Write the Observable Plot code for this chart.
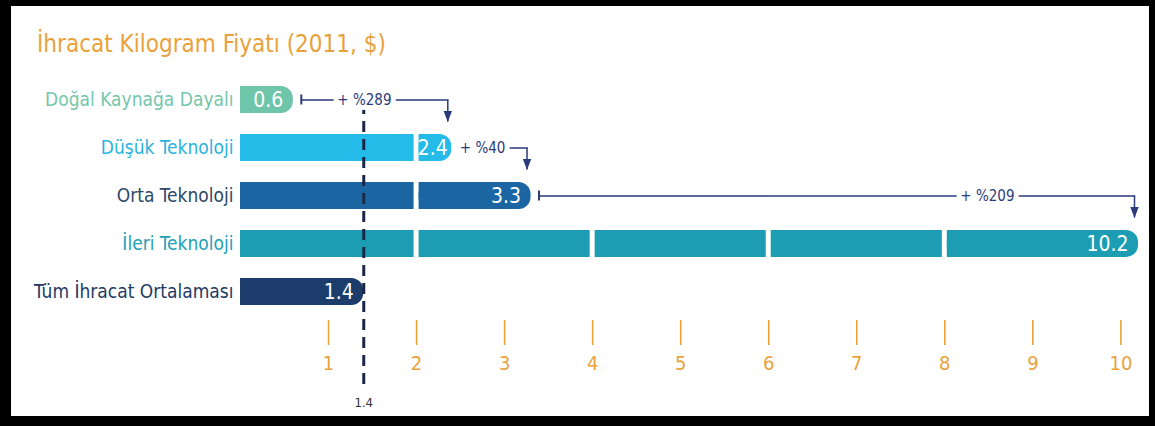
<!DOCTYPE html>
<html><head><meta charset="utf-8">
<script src="https://cdn.jsdelivr.net/npm/d3@7"></script>
<script src="https://cdn.jsdelivr.net/npm/@observablehq/plot@0.6"></script>
<style>
body{margin:0;background:#fff;}
#wrap{position:relative;width:1155px;height:426px;overflow:hidden;background:#fff;}
#title{height:72px;box-sizing:border-box;padding:30px 0 0 37px;font-family:"DejaVu Sans Condensed","Liberation Sans Narrow",sans-serif;font-stretch:condensed;font-size:24px;line-height:28px;color:#E9A23B;white-space:nowrap;}
#frame{position:absolute;left:0;top:0;width:1155px;height:426px;box-sizing:border-box;border-style:solid;border-color:#000;border-width:6px 6px 10px 11px;pointer-events:none;}
#chart svg{display:block;}
</style></head><body>
<div id="wrap"><div id="title">İhracat Kilogram Fiyatı (2011, $)</div><div id="chart"></div><div id="frame"></div></div>
<script>
// ---- data ----
const categories = ["Doğal Kaynağa Dayalı", "Düşük Teknoloji", "Orta Teknoloji", "İleri Teknoloji", "Tüm İhracat Ortalaması"];
const values = [0.6, 2.4, 3.3, 10.2, 1.4];
const valueLabels = ["0.6", "2.4", "3.3", "10.2", "1.4"];
const averageValue = 1.4;
const averageLabel = "1.4";
const tickValues = [1, 2, 3, 4, 5, 6, 7, 8, 9, 10];
const separators = [2, 4, 6, 8];   // white breaks inside the bars
const annFromCat = ["Doğal Kaynağa Dayalı", "Düşük Teknoloji", "Orta Teknoloji"];
const annToCat = ["Düşük Teknoloji", "Orta Teknoloji", "İleri Teknoloji"];
const annLabels = ["+ %289", "+ %40", "+ %209"];

// ---- styles ----
const barColors = ["#6FC5A9", "#25BBE8", "#1B66A2", "#1C9DB4", "#1C3C6C"];
const labelColors = ["#74C6AB", "#2BB3DE", "#2E4866", "#1FA0B7", "#1E3A63"];
const FONT = '"DejaVu Sans Condensed","Liberation Sans Narrow",sans-serif';
const ORANGE = "#E9A23B";
const NAVY = "#2B3A7A";

const rows = categories.map((c, i) => ({cat: c, value: values[i], label: valueLabels[i], i}));
const valueOf = c => values[categories.indexOf(c)];
const ann = annLabels.map((l, i) => ({label: l, fromCat: annFromCat[i], toCat: annToCat[i], from: valueOf(annFromCat[i]), to: valueOf(annToCat[i])}));

const segs = [];
rows.forEach(r => {
  const cuts = [0, ...separators.filter(s => s < r.value), r.value];
  for (let k = 0; k < cuts.length - 1; k++) {
    segs.push({cat: r.cat, x1: cuts[k], x2: cuts[k + 1], first: k === 0, last: k === cuts.length - 2});
  }
  r.lastLen = cuts[cuts.length - 1] - cuts[cuts.length - 2];
  r.split = cuts.length > 2;
});
// rows whose last segment is short get their value label closer to the bar end
const shortRows = rows.filter(r => r.split && r.lastLen < 0.6);
const normalRows = rows.filter(r => !shortRows.includes(r));

const gap = 2.5, R = 12;
const segOpts = {x1: "x1", x2: "x2", y: "cat", fill: "cat"};
function lastSeg(data, insetLeft) {
  return [
    Plot.barX(data, {...segOpts, insetLeft, rx: R, ry: R}),
    Plot.barX(data, {...segOpts, insetLeft, insetRight: R})
  ];
}
const downTri = {draw(ctx, size) { const w = 4.2, h = 11; ctx.moveTo(-w, -h); ctx.lineTo(w, -h); ctx.lineTo(0, 0); ctx.closePath(); }};

const chart = Plot.plot({
  width: 1155, height: 354,
  marginLeft: 240, marginRight: 17, marginTop: 4, marginBottom: 112,
  style: {fontFamily: FONT, background: "transparent", overflow: "visible"},
  x: {domain: [0, 10.2], axis: null},
  y: {domain: categories, paddingInner: 0.443, paddingOuter: 0.175, axis: null},
  color: {domain: categories, range: barColors},
  marks: [
    // bars in segments
    Plot.barX(segs.filter(d => !d.last && d.first), {...segOpts, insetRight: gap}),
    Plot.barX(segs.filter(d => !d.last && !d.first), {...segOpts, insetLeft: gap, insetRight: gap}),
    ...lastSeg(segs.filter(d => d.last && d.first), 0),
    ...lastSeg(segs.filter(d => d.last && !d.first), gap),
    // value labels
    Plot.text(normalRows, {x: "value", y: "cat", text: "label", textAnchor: "end", dx: -10, fill: "white", fontSize: 21, fontFamily: FONT}),
    Plot.text(shortRows, {x: "value", y: "cat", text: "label", textAnchor: "end", dx: -4, fill: "white", fontSize: 21, fontFamily: FONT}),
    // row labels
    Plot.text(rows, {x: 0, y: "cat", text: "cat", textAnchor: "end", dx: -7, fill: d => labelColors[d.i], fontSize: 19, fontFamily: FONT}),
    // x ticks & labels
    Plot.tickX(tickValues, {x: d => d, stroke: ORANGE, strokeWidth: 1.6, insetTop: 244, insetBottom: -31}),
    Plot.text(tickValues, {x: d => d, text: d => String(d), frameAnchor: "bottom", dy: 55, fill: ORANGE, fontSize: 20, fontFamily: FONT}),
    // average dashed line
    Plot.ruleX([averageValue], {stroke: "#1B2746", strokeWidth: 3, strokeDasharray: "11,7", insetTop: 27, insetBottom: -70}),
    Plot.text([averageValue], {x: d => d, text: () => averageLabel, frameAnchor: "bottom", dy: 92, fill: "#333", fontSize: 13, fontFamily: FONT}),
    // annotations: horizontal lines
    Plot.arrow(ann, {x1: "from", x2: "to", y1: "fromCat", y2: "fromCat", insetStart: 8, insetEnd: 4, headLength: 0, bend: 0, stroke: NAVY, strokeWidth: 1.5}),
    // vertical drops
    Plot.arrow(ann, {x1: "to", x2: "to", y1: "fromCat", y2: "toCat", dx: -4, insetEnd: 27, headLength: 0, bend: 0, stroke: NAVY, strokeWidth: 1.5}),
    Plot.dot(ann, {x: "to", y: "toCat", dx: -4, dy: -26, symbol: downTri, r: 5, fill: NAVY, stroke: "none"}),
    // start ticks
    Plot.tickX(ann.filter(a => a.label !== "+ %40"), {x: "from", y: "fromCat", dx: 8, insetTop: 8.5, insetBottom: 8.5, stroke: NAVY, strokeWidth: 2}),
    // annotation labels
    Plot.text([ann[0]], {x: "from", y: "fromCat", text: "label", textAnchor: "start", dx: 44, fill: NAVY, stroke: "white", strokeWidth: 10, paintOrder: "stroke", fontSize: 15, fontFamily: FONT}),
    Plot.text([ann[1]], {x: "from", y: "fromCat", text: "label", textAnchor: "start", dx: 8, fill: NAVY, stroke: "white", strokeWidth: 10, paintOrder: "stroke", fontSize: 15, fontFamily: FONT}),
    Plot.text([ann[2]], {x: "to", y: "fromCat", text: "label", textAnchor: "end", dx: -124, fill: NAVY, stroke: "white", strokeWidth: 10, paintOrder: "stroke", fontSize: 15, fontFamily: FONT})
  ]
});
document.getElementById("chart").appendChild(chart);
</script>
</body></html>
